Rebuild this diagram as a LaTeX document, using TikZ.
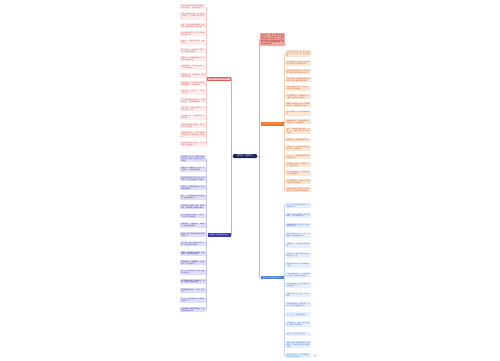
\documentclass[tikz,border=0pt]{standalone}
\usepackage{fontspec}
\setmainfont{Noto Sans CJK SC}
\XeTeXlinebreaklocale "zh"
\XeTeXlinebreakskip = 0pt plus 1pt
\usetikzlibrary{positioning}
\definecolor{rootnavy}{RGB}{30,36,86}
\definecolor{pinkhead}{RGB}{246,196,196}
\definecolor{pinkline}{RGB}{226,90,90}
\definecolor{pinkleaf}{RGB}{253,238,238}
\definecolor{pinktext}{RGB}{214,70,70}
\definecolor{indigohead}{RGB}{58,60,180}
\definecolor{indigoleaf}{RGB}{222,222,246}
\definecolor{indigotext}{RGB}{50,50,160}
\definecolor{salmonbox}{RGB}{243,168,160}
\definecolor{salmontext}{RGB}{140,30,30}
\definecolor{orangehead}{RGB}{234,116,34}
\definecolor{peachleaf}{RGB}{252,230,214}
\definecolor{peachtext}{RGB}{196,84,30}
\definecolor{skyhead}{RGB}{78,126,214}
\definecolor{skyleaf}{RGB}{230,240,253}
\definecolor{skytext}{RGB}{58,110,196}
\definecolor{linkgray}{RGB}{176,182,212}
\newcommand{\leaffont}{\fontsize{1.55pt}{1.9pt}\selectfont}

\begin{document}
\begin{tikzpicture}[
    x=1pt, y=-1pt,
    root/.style={rectangle, rounded corners=1pt, fill=rootnavy, text=white,
                 minimum width=24pt, minimum height=4pt, inner sep=0.5pt,
                 font=\fontsize{2pt}{2.4pt}\selectfont},
    branch/.style={rectangle, fill=#1, minimum width=23pt, minimum height=3.4pt,
                   inner sep=0.3pt, font=\fontsize{1.7pt}{2pt}\selectfont},
    leaf/.style={rectangle, fill=#1, text width=23.5pt, minimum height=4.4pt,
                 inner sep=0.8pt, align=justify, font=\leaffont},
    helper/.style={rectangle, inner sep=0pt, minimum size=0pt},
    link/.style={draw=#1, line width=0.4pt}
]
\useasboundingbox (0,0) rectangle (500,360);

\node[root] (root) at (245,156) {难忘的一件事作文};

\node[branch=pinkhead, draw=pinkline, line width=0.3pt, text=pinktext] (lb1) at (219,78.5) {难忘的一件事作文400字};
\node[branch=indigohead, text=white] (lb2) at (219,235) {难忘的一件事作文500字};
\node[leaf=salmonbox, text=salmontext, text width=23pt, anchor=north west] (rb1) at (260,33)
  {在生活中，总有一些事情让我们难以忘怀。下面是小编为大家整理的难忘的一件事作文，欢迎大家阅读参考，希望对大家有所帮助。写作时要把事情的起因、经过和结果写清楚。};
\node[branch=orangehead, text=white] (rb2) at (272,124) {难忘的一件事作文600字};
\node[branch=skyhead, text=white] (rb3) at (272,277.5) {难忘的一件事作文800字};

% root to branches
\path (root.west) ++(-1.4,0) coordinate (rootl);
\path (root.east) ++(1.8,0) coordinate (rootr);
\draw[link=linkgray] (root.west) -- (rootl) |- (lb1.east);
\draw[link=linkgray] (rootl) |- (lb2.east);
\draw[link=linkgray] (root.east) -- (rootr) |- (rb1.west);
\draw[link=linkgray] (rootr) |- (rb2.west);
\draw[link=linkgray] (rootr) |- (rb3.west);

% left, 400
\path (lb1.west) ++(-1.1,0) coordinate (lb1j);
\node[helper] (lp0) at (205.5,1) {};
\foreach \t [count=\i] in {
  在我的记忆里有许多难忘的事情，有的让我开心，有的让我伤心。,
  但最让我难忘的是那一次学骑自行车的经历，至今想起来还历历在目。,
  那是一个阳光明媚的星期天，爸爸推着一辆崭新的自行车来到楼下。,
  我高兴得跳了起来，迫不及待地想骑上去试一试。,
  爸爸说：“学骑车可不容易，你要有耐心。”,
  我不以为然，心想这有什么难的，我一定很快就能学会。,
  我跨上车，双手紧紧握住车把，爸爸在后面扶着车座。,
  我刚蹬了两下，车子就左摇右晃，一下子摔倒在地上。,
  膝盖擦破了皮，火辣辣地疼，我忍不住哭了起来。,
  爸爸扶起我，耐心地告诉我骑车时眼睛要看前方，身体要放松。,
  我擦干眼泪，咬咬牙，又一次骑上了自行车。,
  这一次我按照爸爸说的方法，眼睛看着前方，用力蹬着脚踏板。,
  不知不觉中，爸爸已经松开了手，我自己骑出了好远。,
  我兴奋地大喊：“我会骑车啦！我会骑车啦！”,
  爸爸在后面笑着为我鼓掌，我的心里比吃了蜜还甜。,
  这件事让我明白了，做任何事情都不能怕困难，只要坚持就一定能成功。,
  这件事我永远也不会忘记，它让我懂得了坚持的意义。}
{
  \pgfmathtruncatemacro{\j}{\i-1}
  \node[leaf=pinkleaf, text=pinktext, below=3pt of lp\j.south east, anchor=north east] (lp\i) {\t};
  \draw[link=pinkline!35] (lb1.west) -- (lb1j) |- (lp\i.east);
}

% left, 500
\path (lb2.west) ++(-1.1,0) coordinate (lb2j);
\node[helper] (lq0) at (205.5,151) {};
\foreach \t [count=\i] in {
  童年就像一条小船，载着许多难忘的往事，其中有一件事让我至今记忆犹新。,
  那是我上二年级时的一个冬天，天气特别冷，北风呼呼地刮着。,
  放学的时候突然下起了大雪，我没有带伞，只好站在教室门口发愁。,
  同学们一个个被家长接走了，我心里越来越着急。,
  这时，一个熟悉的身影出现在雪地里，原来是妈妈来了。,
  妈妈的头发上落满了雪花，脸冻得通红，手里拿着一件厚厚的棉衣。,
  她一边给我穿上棉衣，一边说：“冷坏了吧？快回家。”,
  回家的路上，风越刮越大，妈妈把伞一直往我这边倾斜。,
  我抬头一看，妈妈的半边身子都被雪打湿了。,
  我的鼻子一酸，眼泪差点掉了下来，心里又感动又难过。,
  到家后，妈妈顾不上换衣服，就给我煮了一碗热腾腾的姜汤。,
  我喝着姜汤，心里暖暖的，身上的寒气一下子全跑光了。,
  第二天，妈妈却发起了高烧，躺在床上起不来。,
  我学着妈妈的样子，给她倒水、拿药，用湿毛巾给她敷额头。,
  妈妈摸着我的头说：“孩子，你长大了。”,
  那一刻，我真正体会到了母爱的伟大和无私。,
  这件事就像一颗璀璨的星星，永远闪烁在我的记忆中。}
{
  \pgfmathtruncatemacro{\j}{\i-1}
  \node[leaf=indigoleaf, text=indigotext, below=4pt of lq\j.south east, anchor=north east] (lq\i) {\t};
  \draw[link=indigohead!30] (lb2.west) -- (lb2j) |- (lq\i.east);
}

% right, 600
\path (rb2.east) ++(0.9,0) coordinate (rb2j);
\node[helper] (rp0) at (285.5,47) {};
\foreach \t [count=\i] in {
  人生中有许多第一次，第一次走路，第一次上学，第一次登台表演……,
  而让我最难忘的是第一次独自做饭，那次经历让我收获了很多。,
  那天爸爸妈妈都加班，中午不能回家，我决定自己动手做一顿午饭。,
  我打开冰箱，看见里面有鸡蛋和西红柿，就决定做西红柿炒鸡蛋。,
  我先把西红柿洗干净，切成小块，可是刀总是不听使唤。,
  好不容易切完了，西红柿的汁流了一案板，我的手上也全是汁。,
  接着我开始打鸡蛋，第一个鸡蛋磕得太用力，蛋壳都掉进了碗里。,
  我只好用筷子一点一点把蛋壳挑出来。,
  准备好材料后，我学着妈妈的样子打开煤气灶，往锅里倒油。,
  油热了，我把鸡蛋倒进锅里，“滋啦”一声，油溅了出来，吓得我连忙后退。,
  我鼓起勇气，拿起锅铲翻炒起来。,
  鸡蛋炒好后，我又把西红柿倒进锅里，加了一点盐和糖。,
  不一会儿，一盘香喷喷的西红柿炒鸡蛋就出锅了。,
  虽然颜色不太好看，但我尝了一口，味道还不错。,
  晚上爸爸妈妈回来，听说我自己做了饭，都夸我能干。,
  我心里美滋滋的，原来自己动手是一件这么快乐的事情。,
  这次做饭的经历让我明白了父母的辛苦，我以后要多帮他们做家务。}
{
  \pgfmathtruncatemacro{\j}{\i-1}
  \node[leaf=peachleaf, text=peachtext, below=3pt of rp\j.south west, anchor=north west] (rp\i) {\t};
  \draw[link=orangehead!35] (rb2.east) -- (rb2j) |- (rp\i.west);
}

% right, 800
\path (rb3.east) ++(0.9,0) coordinate (rb3j);
\node[helper] (rq0) at (285.5,198) {};
\foreach \t [count=\i] in {
  时光飞逝，转眼间我已经是一名六年级的学生了。,
  回首往事，有一件事像一颗闪亮的珍珠，一直珍藏在我心底。,
  那是去年夏天，我和爷爷一起去乡下的果园摘桃子。,
  果园里的桃子又大又红，像一个个害羞的小娃娃躲在绿叶中。,
  我提着篮子，兴奋地在树下跑来跑去。,
  爷爷告诉我，摘桃子要轻轻地托住桃子再往上一掰。,
  我照着爷爷的方法，很快就摘满了一篮子。,
  正当我得意的时候，一只马蜂突然飞了过来，在我耳边嗡嗡地叫。,
  我吓得拼命挥手，结果马蜂在我手上狠狠地蜇了一下。,
  我疼得哇哇大哭，手背一下子肿了起来。,
  爷爷赶紧跑过来，从路边摘了几片草叶，揉碎了敷在我的手上。,
  过了一会儿，疼痛渐渐减轻了。,
  爷爷笑着说：“遇到马蜂不要乱动，越挥手它越会蜇你。”,
  我点点头，记住了爷爷的话。,
  那天我们摘了满满两篮桃子，回家的路上，夕阳把我们的影子拉得好长好长。,
  如今爷爷已经老了，但那次摘桃子的经历让我永远难忘。}
{
  \pgfmathtruncatemacro{\j}{\i-1}
  \node[leaf=skyleaf, text=skytext, below=4.6pt of rq\j.south west, anchor=north west] (rq\i) {\t};
  \draw[link=skyhead!35] (rb3.east) -- (rb3j) |- (rq\i.west);
}

\node[rectangle, fill=gray!12, text=gray, inner sep=0.4pt, font=\fontsize{1.4pt}{1.6pt}\selectfont,
      right=2.5pt of rq16] (more) {更多};

\end{tikzpicture}
\end{document}
